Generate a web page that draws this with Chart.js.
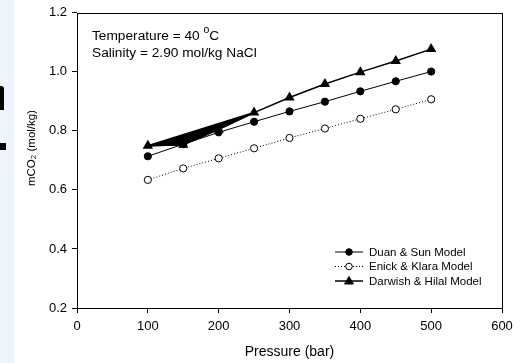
<!DOCTYPE html>
<html>
<head>
<meta charset="utf-8">
<script src="https://cdn.jsdelivr.net/npm/chart.js@4.4.0/dist/chart.umd.min.js"></script>
<style>
  html, body { margin: 0; padding: 0; background: #fff; }
  #wrap { position: relative; width: 520px; height: 363px; }
  #band { position: absolute; left: 0; top: 0; width: 14px; height: 363px; background: #edf4fc; }
  .blk { position: absolute; background: #000; }
  canvas { position: absolute; left: 0; top: 0; }
</style>
</head>
<body>
<div id="wrap">
  <div id="band"></div>
  <div class="blk" style="left:0;top:86px;width:4px;height:24px;border-top-right-radius:3px;"></div>
  <div class="blk" style="left:0;top:143px;width:6px;height:7px;"></div>
  <canvas id="chart" width="520" height="363"></canvas>
</div>
<script>
// =======================
// DATA
// =======================
const pressure = [100, 150, 200, 250, 300, 350, 400, 450, 500];
const duanSun = [0.714, 0.755, 0.795, 0.831, 0.866, 0.899, 0.934, 0.968, 1.001];
const enickKlara = [0.634, 0.673, 0.707, 0.741, 0.776, 0.808, 0.841, 0.873, 0.907];
const darwishHilal = [0.750, 0.753, 0.805, 0.862, 0.913, 0.959, 0.999, 1.037, 1.077];
// the black wedge left on the Darwish curve (points visited out of order)
const wedgeOrder = [0, 3, 2, 1, 0];

const xTicks = [0, 100, 200, 300, 400, 500, 600];
const yTicks = [0.2, 0.4, 0.6, 0.8, 1.0, 1.2];

const legendNames = ["Duan & Sun Model", "Enick & Klara Model", "Darwish & Hilal Model"];

function pts(ys) {
  return pressure.map((p, i) => ({ x: p, y: ys[i] }));
}

const FONT = "'Liberation Sans', Arial, sans-serif";

// =======================
// PLUGIN: box, titles, note, legend
// =======================
const extras = {
  id: "extras",
  afterDraw(c) {
    const ctx = c.ctx;
    const a = c.chartArea;
    ctx.save();
    ctx.strokeStyle = "#000";
    ctx.lineWidth = 1;
    ctx.strokeRect(Math.round(a.left) + 0.5, Math.round(a.top) + 0.5,
      Math.round(a.right - a.left), Math.round(a.bottom - a.top));

    ctx.fillStyle = "#000";
    // note
    ctx.font = "13.7px " + FONT;
    ctx.textBaseline = "alphabetic";
    ctx.textAlign = "left";
    let t = "Temperature = 40 ";
    ctx.fillText(t, 92, 40);
    let w = ctx.measureText(t).width;
    ctx.font = "10.5px " + FONT;
    ctx.fillText("o", 92 + w, 33);
    let w2 = ctx.measureText("o").width;
    ctx.font = "13.7px " + FONT;
    ctx.fillText("C", 92 + w + w2, 40);
    ctx.fillText("Salinity = 2.90 mol/kg NaCl", 92, 57);

    // axis titles
    ctx.textAlign = "center";
    ctx.textBaseline = "middle";
    ctx.font = "14px " + FONT;
    ctx.fillText("Pressure (bar)", (a.left + a.right) / 2, 352);
    ctx.font = "11.5px " + FONT;
    ctx.translate(32, 148);
    ctx.rotate(-Math.PI / 2);
    ctx.fillText("mCO\u2082 (mol/kg)", 0, 0);
    ctx.setTransform(1, 0, 0, 1, 0, 0);

    // legend
    const rows = [252, 266.5, 281];
    ctx.font = "11.5px " + FONT;
    ctx.textAlign = "left";
    rows.forEach((y, i) => {
      const ds = c.data.datasets[i];
      ctx.strokeStyle = "#000";
      ctx.lineWidth = ds.borderWidth;
      ctx.setLineDash(ds.borderDash || []);
      ctx.beginPath();
      ctx.moveTo(335, y);
      ctx.lineTo(363, y);
      ctx.stroke();
      ctx.setLineDash([]);
      ctx.lineWidth = 1;
      ctx.fillStyle = ds.pointBackgroundColor;
      ctx.beginPath();
      if (ds.pointStyle === "triangle") {
        ctx.moveTo(349, y - 4.5);
        ctx.lineTo(353.5, y + 3);
        ctx.lineTo(344.5, y + 3);
        ctx.closePath();
      } else {
        ctx.arc(349, y, 3.3, 0, Math.PI * 2);
      }
      ctx.fill();
      ctx.stroke();
      ctx.fillStyle = "#000";
      ctx.fillText(legendNames[i], 369, y + 0.5);
    });
    ctx.restore();
  }
};

// =======================
// CHART
// =======================
const ctx = document.getElementById("chart").getContext("2d");

new Chart(ctx, {
  type: "scatter",
  data: {
    datasets: [
      {
        label: legendNames[0],
        data: pts(duanSun),
        showLine: true,
        borderColor: "#000",
        borderWidth: 1,
        pointStyle: "circle",
        pointRadius: 3.6,
        pointBackgroundColor: "#000",
        pointBorderColor: "#000"
      },
      {
        label: legendNames[1],
        data: pts(enickKlara),
        showLine: true,
        borderColor: "#000",
        borderWidth: 1,
        borderDash: [1, 2],
        pointStyle: "circle",
        pointRadius: 3.6,
        pointBorderWidth: 1,
        pointBackgroundColor: "#fff",
        pointBorderColor: "#000"
      },
      {
        label: legendNames[2],
        data: pts(darwishHilal),
        showLine: true,
        borderColor: "#000",
        borderWidth: 1.5,
        pointStyle: "triangle",
        pointRadius: 4.5,
        pointBackgroundColor: "#000",
        pointBorderColor: "#000"
      },
      {
        label: "wedge",
        data: wedgeOrder.map(i => ({ x: pressure[i], y: darwishHilal[i] })),
        showLine: true,
        borderColor: "#000",
        borderWidth: 1.5,
        backgroundColor: "#000",
        fill: "shape",
        pointRadius: 0
      }
    ]
  },
  options: {
    responsive: false,
    animation: false,
    layout: { padding: { top: 11, right: 18, left: 0, bottom: 0 } },
    plugins: { legend: { display: false }, tooltip: { enabled: false } },
    scales: {
      x: {
        type: "linear",
        min: 0,
        max: 600,
        afterFit(s) { s.height = 55; },
        afterBuildTicks(s) { s.ticks = xTicks.map(v => ({ value: v })); },
        border: { display: false },
        grid: { drawOnChartArea: false, color: "#000", tickLength: 5, tickWidth: 1 },
        ticks: { color: "#000", font: { family: FONT, size: 13 }, padding: 6, maxRotation: 0 }
      },
      y: {
        type: "linear",
        min: 0.2,
        max: 1.2,
        afterFit(s) { s.width = 77; },
        afterBuildTicks(s) { s.ticks = yTicks.map(v => ({ value: v })); },
        border: { display: false },
        grid: { drawOnChartArea: false, color: "#000", tickLength: 5, tickWidth: 1 },
        ticks: {
          color: "#000",
          font: { family: FONT, size: 13 },
          padding: 5,
          callback: v => v.toFixed(1)
        }
      }
    }
  },
  plugins: [extras]
});
</script>
</body>
</html>
